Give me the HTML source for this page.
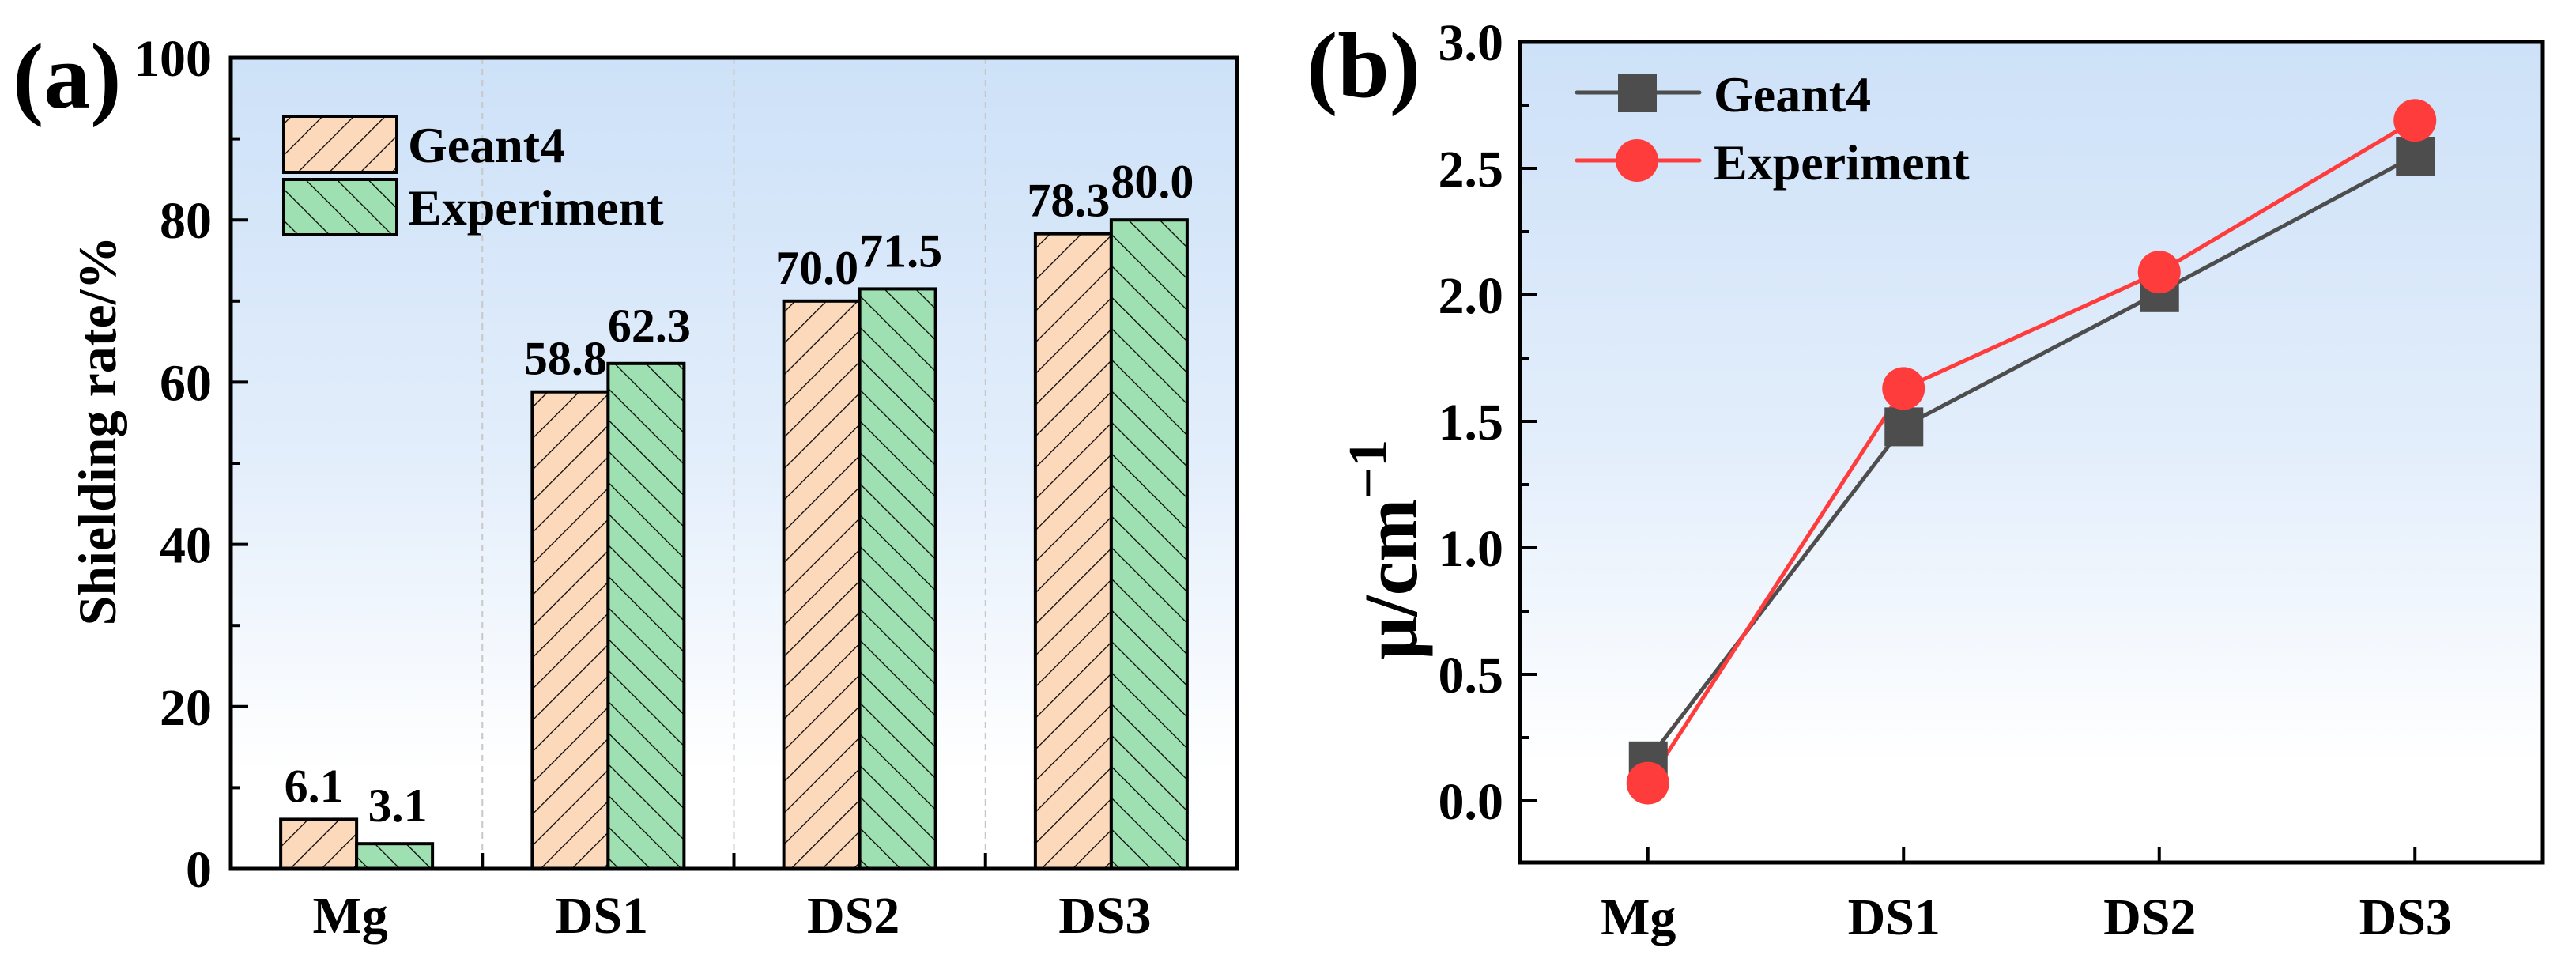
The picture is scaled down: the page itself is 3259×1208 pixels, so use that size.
<!DOCTYPE html>
<html><head><meta charset="utf-8"><style>
html,body{margin:0;padding:0;background:#fff;}
svg{display:block;}
text{font-family:"Liberation Serif",serif;font-weight:bold;fill:#000;}
</style></head><body>
<svg id="root" width="3259" height="1208" viewBox="0 0 3259 1208" xmlns="http://www.w3.org/2000/svg">
<defs>
<linearGradient id="bg" x1="0" y1="0" x2="0" y2="1">
<stop offset="0" stop-color="#cde1f8"/>
<stop offset="0.5" stop-color="#e3eefb"/>
<stop offset="0.88" stop-color="#ffffff"/>
<stop offset="1" stop-color="#ffffff"/>
</linearGradient>
<pattern id="hatchA" patternUnits="userSpaceOnUse" width="28" height="28" patternTransform="rotate(45)">
<rect width="28" height="28" fill="#fdd9bb"/>
<line x1="0" y1="0" x2="0" y2="28" stroke="#000" stroke-width="2.5"/>
</pattern>
<pattern id="hatchB" patternUnits="userSpaceOnUse" width="28" height="28" patternTransform="rotate(-45)">
<rect width="28" height="28" fill="#9ee0b1"/>
<line x1="0" y1="0" x2="0" y2="28" stroke="#000" stroke-width="2.5"/>
</pattern>
</defs>
<g id="panelA"></g>
<g id="panelB"></g>
</svg>
<script>
const categories = ["Mg", "DS1", "DS2", "DS3"];
const geantShield = [6.1, 58.8, 70.0, 78.3];
const expShield = [3.1, 62.3, 71.5, 80.0];
const shieldTicks = [0, 20, 40, 60, 80, 100];
const geantMu = [0.16, 1.48, 2.01, 2.55];
const expMu = [0.07, 1.63, 2.09, 2.69];
const muTicks = ["0.0", "0.5", "1.0", "1.5", "2.0", "2.5", "3.0"];

const NS = "http://www.w3.org/2000/svg";
function mk(parent, tag, attrs, txt) {
  const e = document.createElementNS(NS, tag);
  for (const k in attrs) e.setAttribute(k, attrs[k]);
  if (txt !== undefined) e.textContent = txt;
  parent.appendChild(e);
  return e;
}

/* ---------- Panel A ---------- */
const A = document.getElementById('panelA');
const aL = 292, aR = 1565, aT = 73, aB = 1099;
const ax = i => aL + (i + 0.5) * (aR - aL) / 4;
const ay = v => aB - (v - 0) / 100 * (aB - aT);
let e;
e = mk(A, 'rect', {x: aL, y: aT, width: aR - aL, height: aB - aT, fill: 'url(#bg)'});


for (let i = 0; i < categories.length - 1; i++) {
  const gx = (ax(i) + ax(i + 1)) / 2;
  e = mk(A, 'line', {x1: gx, y1: aT, x2: gx, y2: aB, stroke: '#c8c8c8', 'stroke-width': 2, 'stroke-dasharray': '8 6'});
  
  
  e = mk(A, 'line', {x1: gx, y1: aB, x2: gx, y2: aB - 20, stroke: '#000', 'stroke-width': 4});
  
  
}
const bw = 96;
categories.forEach((c, i) => {
  const cx = ax(i);
  const gy = ay(geantShield[i]), ey = ay(expShield[i]);
  e = mk(A, 'rect', {x: cx - bw, y: gy, width: bw, height: aB - gy, fill: 'url(#hatchA)', stroke: '#000', 'stroke-width': 4});
  
  
  e = mk(A, 'rect', {x: cx, y: ey, width: bw, height: aB - ey, fill: 'url(#hatchB)', stroke: '#000', 'stroke-width': 4});
  
  
  e = mk(A, 'text', {x: cx - bw / 2 - 6, y: gy - 22, 'font-size': 60, 'text-anchor': 'middle'}, geantShield[i].toFixed(1));
  
  
  e = mk(A, 'text', {x: cx + bw / 2 + 4, y: ey - 28, 'font-size': 60, 'text-anchor': 'middle'}, expShield[i].toFixed(1));
  
  
  e = mk(A, 'text', {x: cx - 8, y: 1180, 'font-size': 66, 'text-anchor': 'middle'}, c);
  
  
});
shieldTicks.forEach(v => {
  const y = ay(v);
  e = mk(A, 'line', {x1: aL, y1: y, x2: aL + 22, y2: y, stroke: '#000', 'stroke-width': 4});
  
  
  e = mk(A, 'text', {x: 268, y: y + 23, 'font-size': 66, 'text-anchor': 'end'}, String(v));
  
  
});
for (let i = 0; i < shieldTicks.length - 1; i++) {
  const y = ay((shieldTicks[i] + shieldTicks[i + 1]) / 2);
  e = mk(A, 'line', {x1: aL, y1: y, x2: aL + 12, y2: y, stroke: '#000', 'stroke-width': 4});
  
  
}
e = mk(A, 'rect', {x: aL, y: aT, width: aR - aL, height: aB - aT, fill: 'none', stroke: '#000', 'stroke-width': 5});


e = mk(A, 'text', {x: 0, y: 0, 'font-size': 68, 'text-anchor': 'middle', transform: 'translate(146,545) rotate(-90)'}, 'Shielding rate/%');


e = mk(A, 'text', {x: 16, y: 136, 'font-size': 118}, '(a)');


e = mk(A, 'rect', {x: 359, y: 147, width: 143, height: 71, fill: 'url(#hatchA)', stroke: '#000', 'stroke-width': 4});


e = mk(A, 'text', {x: 516, y: 205, 'font-size': 64}, 'Geant4');


e = mk(A, 'rect', {x: 359, y: 227, width: 143, height: 70, fill: 'url(#hatchB)', stroke: '#000', 'stroke-width': 4});


e = mk(A, 'text', {x: 516, y: 284, 'font-size': 64}, 'Experiment');



/* ---------- Panel B ---------- */
const B = document.getElementById('panelB');
const bL = 1923, bR = 3217, bT = 53, bB = 1091;
const bxf = i => bL + (i + 0.5) * (bR - bL) / 4;
const byf = v => 1013 - v / 3 * (1013 - bT);
e = mk(B, 'rect', {x: bL, y: bT, width: bR - bL, height: bB - bT, fill: 'url(#bg)'});


muTicks.forEach(t => {
  const y = byf(parseFloat(t));
  e = mk(B, 'line', {x1: bL, y1: y, x2: bL + 22, y2: y, stroke: '#000', 'stroke-width': 4});
  
  
  e = mk(B, 'text', {x: 1902, y: y + 23, 'font-size': 66, 'text-anchor': 'end'}, t);
  
  
});
for (let i = 0; i < muTicks.length - 1; i++) {
  const y = byf((parseFloat(muTicks[i]) + parseFloat(muTicks[i + 1])) / 2);
  e = mk(B, 'line', {x1: bL, y1: y, x2: bL + 12, y2: y, stroke: '#000', 'stroke-width': 4});
  
  
}
categories.forEach((c, i) => {
  const x = bxf(i);
  e = mk(B, 'line', {x1: x, y1: bB, x2: x, y2: bB - 20, stroke: '#000', 'stroke-width': 4});
  
  
  e = mk(B, 'text', {x: x - 12, y: 1182, 'font-size': 66, 'text-anchor': 'middle'}, c);
  
  
});
const gPts = geantMu.map((v, i) => bxf(i) + ',' + byf(v)).join(' ');
e = mk(B, 'polyline', {points: gPts, fill: 'none', stroke: '#4d4d4d', 'stroke-width': 5});


const rPts = expMu.map((v, i) => bxf(i) + ',' + byf(v)).join(' ');
e = mk(B, 'polyline', {points: rPts, fill: 'none', stroke: '#ff3c3c', 'stroke-width': 5});


geantMu.forEach((v, i) => {
  e = mk(B, 'rect', {x: bxf(i) - 24, y: byf(v) - 24, width: 49, height: 49, fill: '#4d4d4d'});
  
  
});
expMu.forEach((v, i) => {
  e = mk(B, 'circle', {cx: bxf(i), cy: byf(v), r: 27, fill: '#ff3c3c'});
  
  
});
e = mk(B, 'rect', {x: bL, y: bT, width: bR - bL, height: bB - bT, fill: 'none', stroke: '#000', 'stroke-width': 5});


e = mk(B, 'text', {x: 0, y: 0, 'font-size': 96, 'text-anchor': 'middle', transform: 'translate(1792,695) rotate(-90)'});


mk(e, 'tspan', {}, 'μ/cm');
mk(e, 'tspan', {dy: -38, 'font-size': 70}, '−1');
e = mk(B, 'text', {x: 1653, y: 122, 'font-size': 118}, '(b)');


e = mk(B, 'line', {x1: 1995, y1: 117, x2: 2150, y2: 117, stroke: '#4d4d4d', 'stroke-width': 5, 'stroke-linecap': 'round'});


e = mk(B, 'rect', {x: 2047, y: 93, width: 49, height: 49, fill: '#4d4d4d'});


e = mk(B, 'text', {x: 2168, y: 141, 'font-size': 64}, 'Geant4');


e = mk(B, 'line', {x1: 1995, y1: 203, x2: 2150, y2: 203, stroke: '#ff3c3c', 'stroke-width': 5, 'stroke-linecap': 'round'});


e = mk(B, 'circle', {cx: 2071, cy: 203, r: 27, fill: '#ff3c3c'});


e = mk(B, 'text', {x: 2168, y: 227, 'font-size': 64}, 'Experiment');


</script>
</body></html>
